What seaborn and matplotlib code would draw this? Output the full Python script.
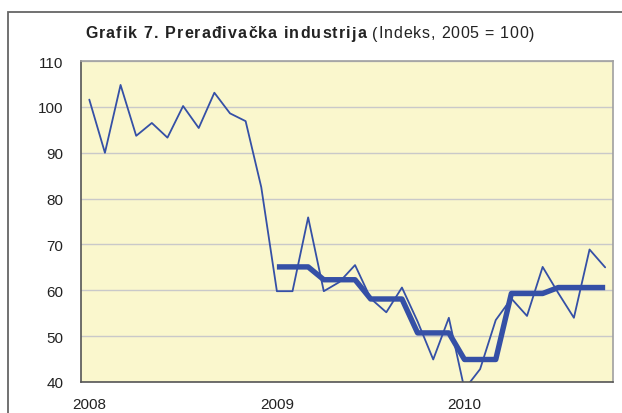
import numpy as np
import pandas as pd
import seaborn as sns
import matplotlib.pyplot as plt
from matplotlib.patches import Rectangle

# monthly index, Jan 2008 - Oct 2010
months = pd.date_range("2008-01", periods=34, freq="MS")
monthly = [101.6, 90.0, 104.8, 93.7, 96.5, 93.3, 100.2, 95.4, 103.1, 98.6, 96.9, 82.5,
           59.8, 59.8, 75.9, 59.8, 61.8, 65.5, 58.2, 55.2, 60.6, 53.2, 44.9, 54.0,
           38.4, 42.8, 53.5, 58.2, 54.4, 65.1, 59.4, 54.0, 68.9, 65.0]
# quarterly averages from 2009 on, drawn at each month of the quarter
quarterly = [65.1, 62.3, 58.1, 50.7, 44.9, 59.3, 60.6, 60.6]
quarter_months = [3, 3, 3, 3, 3, 3, 3, 1]
year_labels = ["2008", "2009", "2010"]

blue = "#3550a6"

df = pd.DataFrame({"m": np.arange(len(months)) + 0.5, "value": monthly})
q_vals = np.repeat(quarterly, quarter_months)
dq = pd.DataFrame({"m": df["m"].values[12:12 + len(q_vals)], "value": q_vals})

sns.set_style("white")
plt.rcParams["font.family"] = ["Liberation Sans", "DejaVu Sans"]

fig = plt.figure(figsize=(6.22, 4.14), dpi=100)
ax = fig.add_axes([0.131, 0.075, 0.8545, 0.775])
ax.set_facecolor("#faf7cd")

sns.lineplot(data=df, x="m", y="value", ax=ax, color=blue, linewidth=1.3)
sns.lineplot(data=dq, x="m", y="value", ax=ax, color=blue, linewidth=3.9,
             solid_capstyle="butt")

ax.set_xlim(0, 34)
ax.set_ylim(40, 110)
ax.set_yticks(range(40, 111, 10))
ax.yaxis.grid(True, color="#c9c9c9", linewidth=1)
ax.set_axisbelow(True)
ax.set_xticks(range(0, 34, 3))
ax.set_xticklabels([])
ax.set_xticks([0.5, 12.5, 24.5], minor=True)
ax.set_xticklabels(year_labels, minor=True)
ax.tick_params(axis="x", which="major", direction="out", length=4, color="#555555", width=1)
ax.tick_params(axis="x", which="minor", length=0, pad=11, labelsize=11, labelcolor="#222222")
ax.tick_params(axis="y", length=0, pad=13, labelsize=11, labelcolor="#222222")
ax.set_xlabel("")
ax.set_ylabel("")
for side in ["left", "bottom"]:
    ax.spines[side].set_color("#555555")
    ax.spines[side].set_linewidth(1.2)
for side in ["top", "right"]:
    ax.spines[side].set_color("#a0a0a0")
    ax.spines[side].set_linewidth(1.2)

# outer frame
fig.patches.append(Rectangle((8 / 622, -0.1), 1.2, 1 - 13 / 414 + 0.1,
                             transform=fig.transFigure, fill=False,
                             edgecolor="#666666", linewidth=1.3))


def tracked_text(x_px, y, s, track, **kw):
    # draw text one char at a time with extra letter spacing
    fig.canvas.draw()
    r = fig.canvas.get_renderer()
    for ch in s:
        t = fig.text(x_px / 622, y, ch, va="baseline", ha="left", **kw)
        w = t.get_window_extent(renderer=r).width
        if ch == " ":
            w = t.get_fontsize() * 0.278 * 100 / 72
        x_px += w + track
    return x_px


base_y = 1 - 38.5 / 414
end = tracked_text(85, base_y, "Grafik 7. Prerađivačka industrija", 1.1,
                   fontsize=11.5, fontweight="bold", color="#222222")
tracked_text(end + 5, base_y, "(Indeks, 2005 = 100)", 0.8, fontsize=11.5, color="#222222")

fig.savefig("out.png", dpi=100)
